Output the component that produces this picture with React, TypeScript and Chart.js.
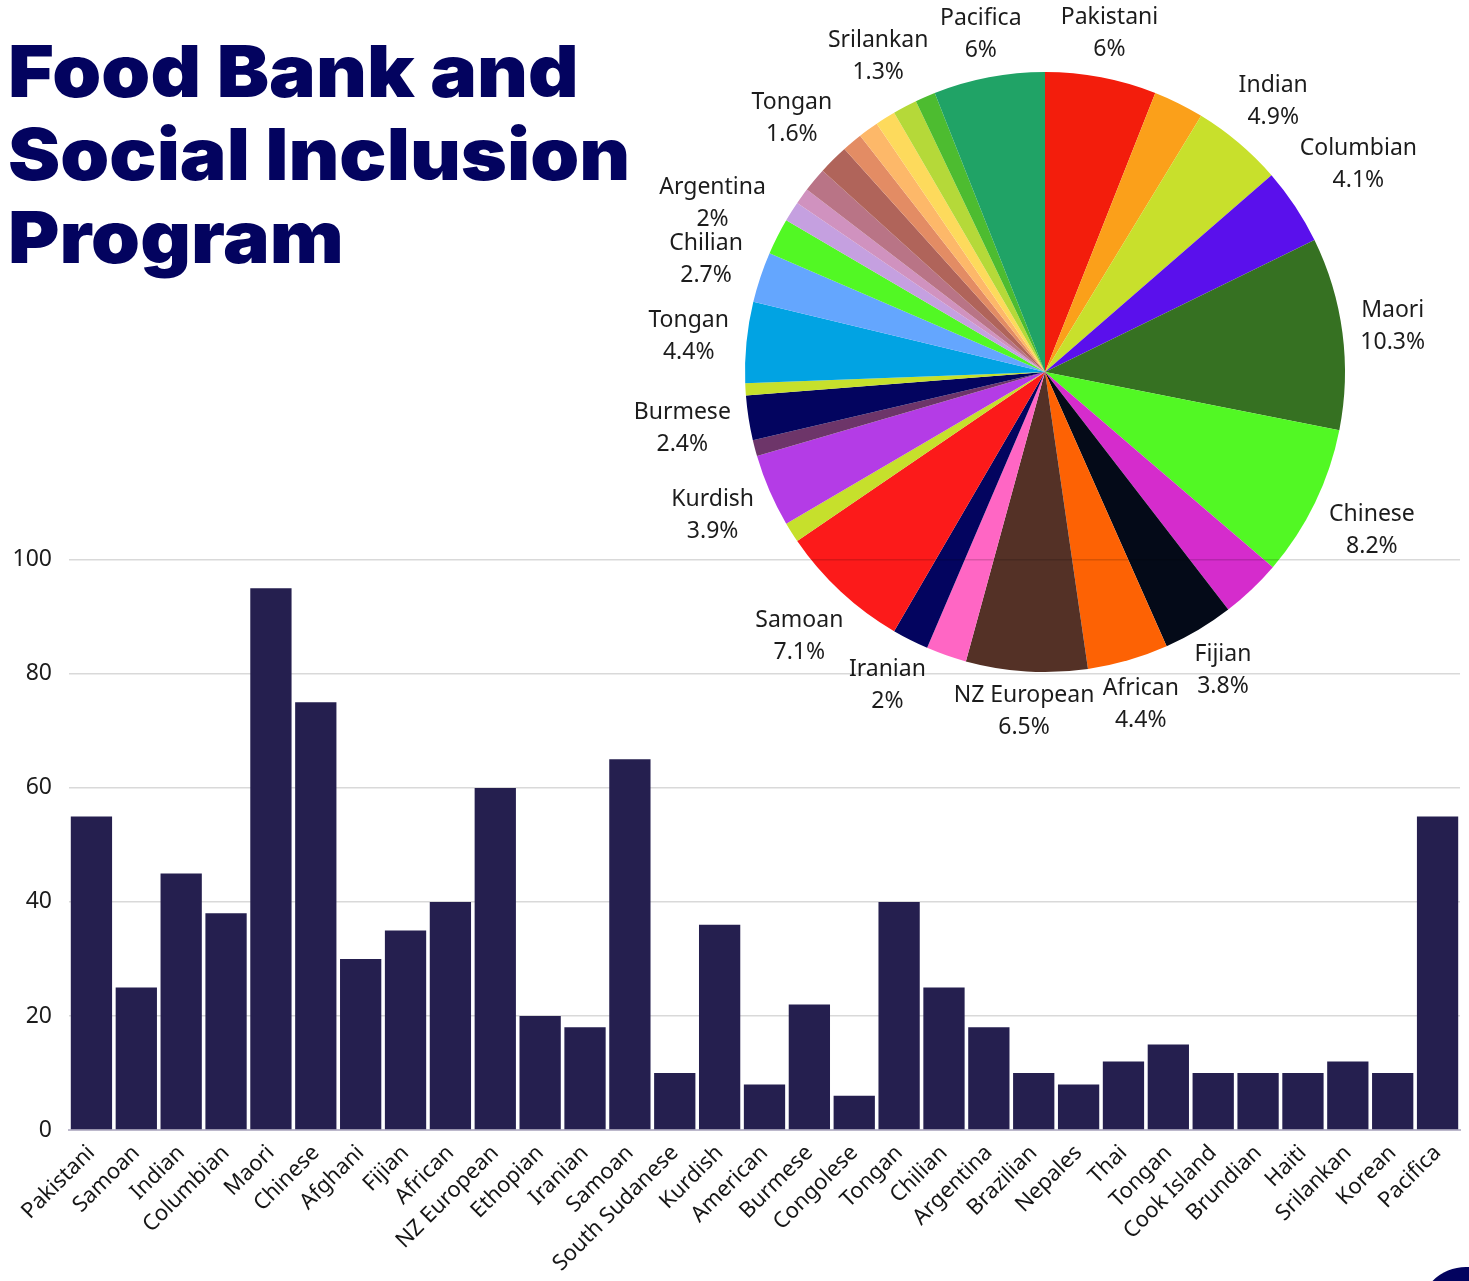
import React, { useEffect, useRef } from "react";
import { Chart, registerables } from "chart.js";

Chart.register(...registerables);

const categories = [
  "Pakistani", "Samoan", "Indian", "Columbian", "Maori", "Chinese", "Afghani", "Fijian",
  "African", "NZ European", "Ethopian", "Iranian", "Samoan", "South Sudanese", "Kurdish",
  "American", "Burmese", "Congolese", "Tongan", "Chilian", "Argentina", "Brazilian",
  "Nepales", "Thai", "Tongan", "Cook Island", "Brundian", "Haiti", "Srilankan", "Korean",
  "Pacifica",
];
const values = [
  55, 25, 45, 38, 95, 75, 30, 35, 40, 60, 20, 18, 65, 10, 36, 8, 22, 6, 40, 25, 18, 10, 8,
  12, 15, 10, 10, 10, 12, 10, 55,
];
const sliceColors = [
  "#f31d0c", "#fba01a", "#c8e02c", "#5a10ec", "#367122", "#52f824", "#d52ccc", "#040a18",
  "#fd6204", "#543126", "#ff66c4", "#03045f", "#fc1a1a", "#c6e02c", "#b43ce6", "#6d3569",
  "#03045f", "#c6e02c", "#01a3e3", "#64a6fe", "#52f824", "#c5a0e0", "#d092bf", "#b97486",
  "#b0645a", "#e38c64", "#fdb869", "#fdda5c", "#b5d939", "#4dbc30", "#20a366",
];
const pieLabelIndices = [0, 2, 3, 4, 5, 7, 8, 9, 11, 12, 14, 16, 18, 19, 20, 24, 28, 30];
const yTicks = [0, 20, 40, 60, 80, 100];
const titleLines = ["Food Bank and", "Social Inclusion", "Program"];

const BAR_COLOR = "#251f4f";
const TITLE_COLOR = "#03035f";
const AXIS_FONT = '"Noto Sans", "Open Sans", sans-serif';

function formatPct(v: number, total: number) {
  const p = Math.round((v / total) * 1000) / 10;
  return `${p}%`;
}

const pieLabelPlugin = {
  id: "pieLabels",
  afterDatasetsDraw(chart: any) {
    const ctx = chart.ctx as CanvasRenderingContext2D;
    const meta = chart.getDatasetMeta(0);
    const data = chart.data.datasets[0].data as number[];
    const total = data.reduce((a, b) => a + b, 0);
    ctx.save();
    ctx.font = `400 23px ${AXIS_FONT}`;
    ctx.fillStyle = "#1c1c1c";
    ctx.textAlign = "center";
    ctx.textBaseline = "middle";
    pieLabelIndices.forEach((i) => {
      const arc = meta.data[i];
      const { x, y, startAngle, endAngle, outerRadius } = arc.getProps(
        ["x", "y", "startAngle", "endAngle", "outerRadius"],
        true
      );
      const mid = (startAngle + endAngle) / 2;
      const c = Math.cos(mid);
      const s = Math.sin(mid);
      const l1 = String(chart.data.labels[i]);
      const l2 = formatPct(data[i], total);
      const w = Math.max(ctx.measureText(l1).width, ctx.measureText(l2).width);
      const hw = w / 2;
      const hh = 20;
      const r = outerRadius + 16 + hw * Math.abs(c) + hh * Math.abs(s);
      const cx = x + r * c;
      const cy = y + r * s;
      ctx.fillText(l1, cx, cy - 16);
      ctx.fillText(l2, cx, cy + 16);
    });
    ctx.restore();
  },
};

function PieChart() {
  const ref = useRef<HTMLCanvasElement>(null);
  useEffect(() => {
    if (!ref.current) return;
    const chart = new Chart(ref.current, {
      type: "pie",
      data: {
        labels: categories,
        datasets: [
          {
            data: values,
            backgroundColor: sliceColors,
            borderWidth: 0,
          },
        ],
      },
      options: {
        responsive: false,
        animation: false,
        devicePixelRatio: 1,
        layout: { padding: { left: 150, right: 150, top: 72, bottom: 78 } },
        plugins: { legend: { display: false }, tooltip: { enabled: false } },
      },
      plugins: [pieLabelPlugin],
    } as any);
    return () => chart.destroy();
  }, []);
  return (
    <canvas
      ref={ref}
      width={900}
      height={750}
      style={{ position: "absolute", left: 595, top: 0, width: 900, height: 750, zIndex: 1 }}
    />
  );
}

function BarChart() {
  const ref = useRef<HTMLCanvasElement>(null);
  useEffect(() => {
    if (!ref.current) return;
    const chart = new Chart(ref.current, {
      type: "bar",
      data: {
        labels: categories,
        datasets: [
          {
            data: values,
            backgroundColor: BAR_COLOR,
            borderWidth: 0,
            categoryPercentage: 1,
            barPercentage: 0.92,
          },
        ],
      },
      options: {
        responsive: false,
        animation: false,
        devicePixelRatio: 1,
        layout: { padding: { left: 0, right: 9, top: 7, bottom: 0 } },
        plugins: { legend: { display: false }, tooltip: { enabled: false } },
        scales: {
          x: {
            grid: { display: false, drawTicks: false },
            border: { display: true, color: "#bcb8cb", width: 2 },
            ticks: {
              autoSkip: false,
              maxRotation: 45,
              minRotation: 45,
              padding: 10,
              color: "#161616",
              font: { family: AXIS_FONT, size: 22 },
            },
            afterFit: (scale: any) => {
              scale.height = 151;
            },
          },
          y: {
            min: 0,
            max: 100,
            afterBuildTicks: (scale: any) => {
              scale.ticks = yTicks.map((v) => ({ value: v }));
            },
            grid: { color: "rgba(0,0,0,0.15)", lineWidth: 1.5, drawTicks: false },
            border: { display: false },
            ticks: {
              padding: 17,
              color: "#1c1c1c",
              font: { family: AXIS_FONT, size: 23 },
            },
            afterFit: (scale: any) => {
              scale.width = 69;
            },
          },
        },
      },
    } as any);
    return () => chart.destroy();
  }, []);
  return (
    <canvas
      ref={ref}
      width={1469}
      height={752}
      style={{ position: "absolute", left: 0, top: 529, width: 1469, height: 752, zIndex: 2 }}
    />
  );
}

export default function App() {
  return (
    <div
      style={{
        position: "relative",
        width: 1469,
        height: 1281,
        overflow: "hidden",
        background: "#ffffff",
      }}
    >
      <style>{`body{margin:0;}`}</style>
      <div
        style={{
          position: "absolute",
          left: 8,
          top: 29,
          zIndex: 3,
          fontFamily: 'Inter, Lato, sans-serif',
          fontWeight: 900,
          fontSize: 72,
          lineHeight: "83px",
          color: TITLE_COLOR,
          letterSpacing: "0px",
          whiteSpace: "nowrap",
          transform: "scaleX(1.09)",
          transformOrigin: "0 0",
        }}
      >
        {titleLines.map((t, i) => (
          <div key={i}>{t}</div>
        ))}
      </div>
      <PieChart />
      <BarChart />
      <div
        style={{
          position: "absolute",
          left: 1466 - 47,
          top: 1314 - 47,
          width: 94,
          height: 94,
          borderRadius: "50%",
          background: TITLE_COLOR,
          zIndex: 0,
        }}
      />
    </div>
  );
}
